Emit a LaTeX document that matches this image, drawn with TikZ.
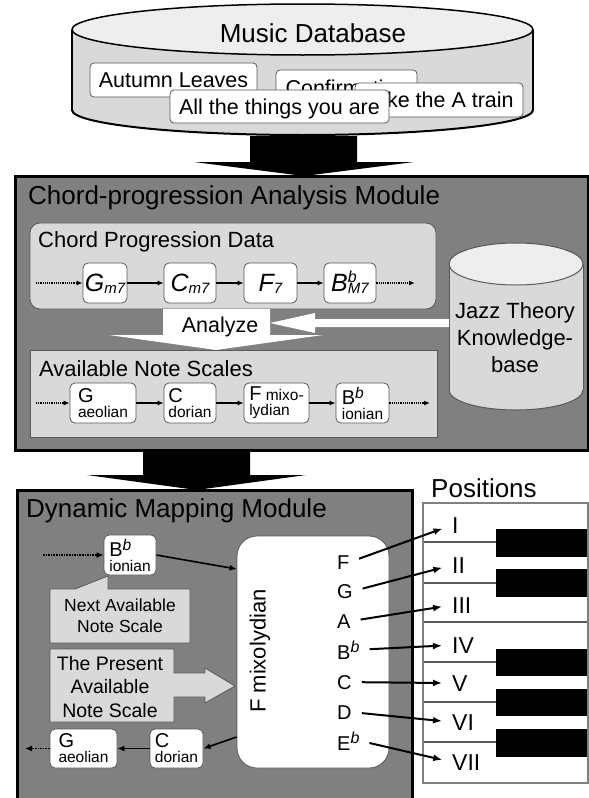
\documentclass[tikz,border=0pt]{standalone}
\usepackage{fontspec}
\setmainfont{Liberation Sans}
\usetikzlibrary{arrows.meta}
\definecolor{modgray}{HTML}{808080}
\definecolor{lgray}{HTML}{D9D9D9}
\definecolor{bgray}{HTML}{595959}
\definecolor{topgray}{HTML}{EEEEEE}
\newcommand\fsz[2]{\fontsize{#1}{#2}\selectfont}
\begin{document}
\begin{tikzpicture}[x=1pt,y=-1pt,
  every node/.style={inner sep=0pt},
  module/.style={draw=black, line width=3pt, fill=modgray},
  lbox/.style={draw=bgray, line width=0.8pt, fill=lgray},
  song/.style={draw=bgray, line width=0.8pt, fill=white, rounded corners=4pt, minimum height=34pt, font=\fsz{21.5}{24}, text height=15.5pt, text depth=0pt},
  chordbox/.style={draw=bgray, line width=0.8pt, fill=white, rounded corners=5pt, minimum height=40pt, font=\itshape\fsz{25}{25}, text height=18pt, text depth=2pt},
  scalebox/.style={draw=bgray, line width=0.8pt, fill=white, rounded corners=5pt, minimum height=40pt, align=left, font=\fsz{15.5}{15}},
  arr/.style={-{Latex[length=6pt,width=5pt]}, line width=1.2pt},
  dotarr/.style={arr, densely dotted},
  arrb/.style={-{Latex[length=7pt,width=6pt]}, line width=1.6pt},
  dotarrb/.style={arrb, densely dotted},
  maparr/.style={-{Latex[length=9pt,width=7pt]}, line width=2pt, shorten <=10pt, shorten >=10pt},
  letter/.style={anchor=base west, font=\fsz{20}{20}},
  roman/.style={anchor=base west, font=\fsz{23}{23}},
  title/.style={anchor=west, font=\fsz{26}{30}},
  sub/.style={anchor=west, font=\fsz{22}{26}}
]
\useasboundingbox (0,0) rectangle (589,798);
\fill[white] (0,0) rectangle (589,798);

% ---------- Music database cylinder ----------
\fill[lgray] (72,29.5) rectangle (533,110);
\fill[lgray] (302.5,110) ellipse [x radius=230.5pt, y radius=25pt];
\begin{scope}
  \clip (60,110) rectangle (545,145);
  \draw[line width=2pt] (302.5,110) ellipse [x radius=230.5pt, y radius=25pt];
\end{scope}
\draw[line width=1.5pt] (72,29.5) -- (72,110) (533,29.5) -- (533,110);
\draw[fill=topgray, line width=1.5pt] (302.5,29.5) ellipse [x radius=230.5pt, y radius=25.5pt];
\node[font=\fsz{26}{30}] (dbtitle) at (313,33) {Music Database};

\node[song, minimum width=167pt] (autumn) at (173.5,80) {Autumn Leaves};
\node[song, minimum width=141pt, minimum height=35pt] (confirm) at (346.5,87.5) {Confirmation};
\node[song, minimum width=168pt] (atrain) at (439,100) {Take the A train};
\node[song, minimum width=219pt, minimum height=33pt] (allthings) at (279.5,106.5) {All the things you are};

% ---------- block arrow 1 ----------
\fill[black] (250,136) -- (357,136) -- (357,162) -- (414,162) -- (304,176) -- (194,162) -- (250,162) -- cycle;

% ---------- Chord-progression Analysis Module ----------
\draw[module] (15,176) rectangle (588,450);
\node[title] (t1) at (28,198) {Chord-progression Analysis Module};

\draw[lbox, rounded corners=10pt] (30,223) rectangle (436,309);
\node[sub] (cpd) at (38,242) {Chord Progression Data};

\node[chordbox, minimum width=44pt] (gm7) at (105,283) {G\raisebox{-2pt}{\fsz{15}{15}m7}};
\node[chordbox, minimum width=52pt] (cm7) at (190,283) {C\raisebox{-2pt}{\fsz{15}{15}m7}};
\node[chordbox, minimum width=53pt] (f7) at (270.5,283) {F\raisebox{-2pt}{\fsz{15}{15}7}};
\node[chordbox, minimum width=52pt] (bbm7) at (350,283) {B\rlap{\raisebox{9pt}{\fsz{16}{16}b}}\raisebox{-2pt}{\fsz{15}{15}M7}};
\coordinate (cstart) at (36,283);
\coordinate (cend) at (415,283);
\draw[dotarr] (cstart) -- (gm7);
\draw[arr] (gm7) -- (cm7);
\draw[arr] (cm7) -- (f7);
\draw[arr] (f7) -- (bbm7);
\draw[dotarr] (bbm7) -- (cend);

\draw[lbox] (30,350) rectangle (437,437);
\node[sub] (ans) at (39,369) {Available Note Scales};

% Analyze arrow
\fill[white] (163,309) -- (270,309) -- (270,335) -- (323,335) -- (216,350) -- (109,335) -- (163,335) -- cycle;
\node[font=\fsz{21.5}{24}] (analyze) at (220,327) {Analyze};

\node[scalebox, minimum width=66pt] (sg) at (103,403) {{\fsz{20}{15}G}\\aeolian};
\node[scalebox, minimum width=52pt] (sc) at (190,403) {{\fsz{20}{15}C}\\dorian};
\node[scalebox, minimum width=65pt] (sf) at (276.5,403) {{\fsz{20}{15}F} mixo-\\lydian};
\node[scalebox, minimum width=53pt] (sbb) at (362.5,403) {{\fsz{20}{15}B}\raisebox{6pt}{\itshape b}\\ionian};
\coordinate (sstart) at (36,403);
\coordinate (send) at (430,403);
\draw[dotarr] (sstart) -- (sg);
\draw[arr] (sg) -- (sc);
\draw[arr] (sc) -- (sf);
\draw[arr] (sf) -- (sbb);
\draw[dotarr] (sbb) -- (send);

% Jazz cylinder
\fill[lgray] (449,264) rectangle (583,390);
\fill[lgray] (516,390) ellipse [x radius=67pt, y radius=20pt];
\begin{scope}
  \clip (440,390) rectangle (589,415);
  \draw[bgray, line width=1pt] (516,390) ellipse [x radius=67pt, y radius=20pt];
\end{scope}
\draw[bgray, line width=1pt] (449,264) -- (449,390) (583,264) -- (583,390);
\draw[bgray, fill=topgray, line width=1pt] (516,264) ellipse [x radius=67pt, y radius=21pt];
\node[align=center, font=\fsz{22}{27}] (jazz) at (515,338) {Jazz Theory\\Knowledge-\\base};

% arrow from knowledge base
\fill[white] (449,319) -- (315,319) -- (315,313) -- (270,323) -- (315,333) -- (315,327) -- (449,327) -- cycle;

% ---------- block arrow 2 ----------
\fill[black] (143,449) -- (250,449) -- (250,475) -- (306,475) -- (196.5,490) -- (87,475) -- (143,475) -- cycle;

% ---------- Dynamic Mapping Module ----------
\draw[module] (17,490) rectangle (412,806);
\node[title] (t2) at (26,511) {Dynamic Mapping Module};

\node[scalebox, minimum width=52pt] (bbion) at (130,555) {{\fsz{20}{15}B}\raisebox{6pt}{\itshape b}\\ionian};
\coordinate (bstart) at (43,555);
\draw[dotarrb] (bstart) -- (bbion);

% callout: next
\draw[lbox] (50,589) -- (75,589) -- (108,576) -- (108,589) -- (190,589) -- (190,643) -- (50,643) -- cycle;
\node[align=center, font=\fsz{17.5}{21}] (nextlbl) at (120,616) {Next Available\\Note Scale};

% callout: present
\draw[lbox] (50,649) -- (174,649) -- (174,673) -- (205,673) -- (205,668) -- (235,686) -- (205,703) -- (205,697) -- (174,697) -- (174,722) -- (50,722) -- cycle;
\node[align=center, font=\fsz{19.5}{23.5}] (preslbl) at (110,687) {The Present\\Available\\Note Scale};

% big box
\node[draw=bgray, line width=0.8pt, fill=white, rounded corners=20pt, minimum width=152pt, minimum height=232pt] (mixo) at (313,652) {};
\node[rotate=90, font=\fsz{22}{24}] (mixolbl) at (260,651) {F mixolydian};

\draw[arrb] (bbion.east) -- (mixo.west |- 0,569);

\node[letter] (nF) at (337,569) {F};
\node[letter] (nG) at (337,598) {G};
\node[letter] (nA) at (337,628) {A};
\node[letter] (nBb) at (337,659) {B\raisebox{7pt}{\fsz{16}{16}\itshape b}};
\node[letter] (nC) at (337,689) {C};
\node[letter] (nD) at (337,719) {D};
\node[letter] (nEb) at (337,750) {E\raisebox{7pt}{\fsz{16}{16}\itshape b}};

\node[scalebox, minimum width=67pt, minimum height=39pt] (gaeo) at (83.5,748.5) {{\fsz{20}{15}G}\\aeolian};
\node[scalebox, minimum width=53pt, minimum height=39pt] (cdor) at (176.5,748.5) {{\fsz{20}{15}C}\\dorian};
\coordinate (gend) at (25,748.5);
\draw[arrb] (mixo.west |- 0,737) -- (cdor.east);
\draw[arrb] (cdor) -- (gaeo);
\draw[dotarrb] (gaeo) -- (gend);

% ---------- Piano ----------
\node[anchor=west, font=\fsz{26}{30}] (positions) at (431,488) {Positions};
\draw[fill=white, draw=none] (423,503) rectangle (588,783);
\foreach \yy in {542,583,622,662,702,742} \draw[bgray, line width=1.2pt] (423,\yy) -- (588,\yy);
\foreach \ya/\yb in {529/557,569/597,649/676,689/716,729/757} \fill[black] (496,\ya) rectangle (588,\yb);
\draw[gray, line width=1.5pt] (423,503) rectangle (588,783);

\node[roman] (r1) at (452,533) {I};
\node[roman] (r2) at (452,573) {II};
\node[roman] (r3) at (452,613) {III};
\node[roman] (r4) at (452,653) {IV};
\node[roman] (r5) at (452,691) {V};
\node[roman] (r6) at (452,730) {VI};
\node[roman] (r7) at (452,770) {VII};

\draw[maparr] (nF.east) -- (r1.west);
\draw[maparr] (nG.east) -- (r2.west);
\draw[maparr] (nA.east) -- (r3.west);
\draw[maparr] (nBb.east) -- (r4.west);
\draw[maparr] (nC.east) -- (r5.west);
\draw[maparr] (nD.east) -- (r6.west);
\draw[maparr] (nEb.east) -- (r7.west);
\end{tikzpicture}
\end{document}
